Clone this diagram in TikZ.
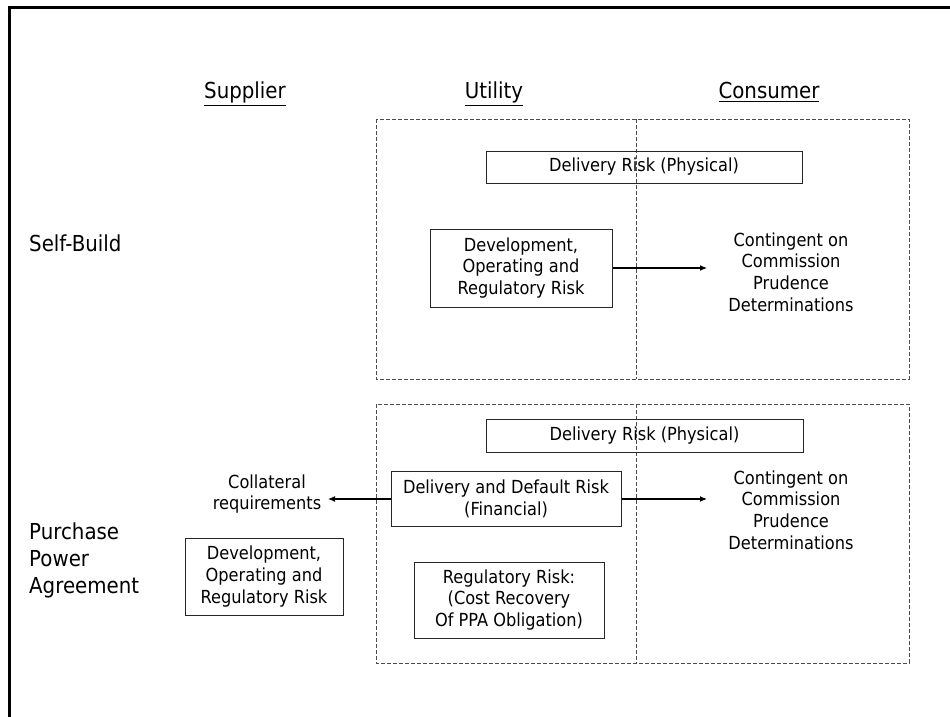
\documentclass[tikz,border=0pt]{standalone}
\usepackage{fontspec}
\setmainfont{DejaVu Sans}[FakeStretch=0.9]
\usetikzlibrary{arrows.meta}
\begin{document}
\begin{tikzpicture}[x=1pt,y=-1pt,
  box/.style={draw=black!85,line width=1pt,align=center,inner sep=0pt,font=\fontsize{18}{21.7}\selectfont},
  lbl/.style={align=center,inner sep=0pt,font=\fontsize{18}{21.7}\selectfont},
  head/.style={font=\fontsize{22}{27}\selectfont,inner sep=0pt,anchor=base},
  rowlbl/.style={font=\fontsize{22}{27}\selectfont,inner sep=0pt,anchor=west,align=left},
  zone/.style={draw=black!70,dash pattern=on 4pt off 2pt,line width=1pt},
  arr/.style={-{Latex[length=7pt,width=6pt]},line width=1.2pt}]
\useasboundingbox (0,0) rectangle (950,717);
% frame
\draw[line width=3pt] (9,717) -- (9,8) -- (950,8);
% headers
\node[head] (sup) at (245,99) {\underline{Supplier}};
\node[head] (uti) at (494,99) {\underline{Utility}};
\node[head] (con) at (769,99) {\underline{Consumer}};
% row labels
\node[rowlbl] (sb) at (29,243) {Self-Build};
\node[rowlbl] (ppa) at (29,560) {Purchase\\Power\\Agreement};
% zones
\draw[zone] (376,119) rectangle (909,379);
\draw[zone] (636,119) -- (636,379);
\draw[zone] (376,404) rectangle (909,663);
\draw[zone] (636,404) -- (636,663);
% self-build
\node[box,minimum width=316pt,minimum height=32pt] (sbdel) at (644,167) {Delivery Risk (Physical)};
\node[box,minimum width=182pt,minimum height=78pt] (sbdev) at (521,268) {Development,\\Operating and\\Regulatory Risk};
\node[lbl] (sbcont) at (791,272) {Contingent on\\Commission\\Prudence\\Determinations};
\coordinate (sbtip) at (707,268);
\draw[arr] (sbdev.east) -- (sbtip);
% PPA
\node[box,minimum width=317pt,minimum height=33pt] (ppadel) at (644.5,435.5) {Delivery Risk (Physical)};
\node[box,minimum width=230pt,minimum height=55pt] (ddr) at (506,499) {Delivery and Default Risk\\(Financial)};
\node[lbl] (ppacont) at (791,510) {Contingent on\\Commission\\Prudence\\Determinations};
\node[lbl] (coll) at (267,494) {Collateral\\requirements};
\node[box,minimum width=158pt,minimum height=77pt] (ppadev) at (264,576.5) {Development,\\Operating and\\Regulatory Risk};
\node[box,minimum width=190pt,minimum height=76pt] (reg) at (509,600) {Regulatory Risk:\\(Cost Recovery\\Of PPA Obligation)};
\coordinate (ppatip) at (707,499);
\coordinate (colltip) at (328,499);
\draw[arr] (ddr.east) -- (ppatip);
\draw[arr] (ddr.west) -- (colltip);
\end{tikzpicture}
\end{document}
